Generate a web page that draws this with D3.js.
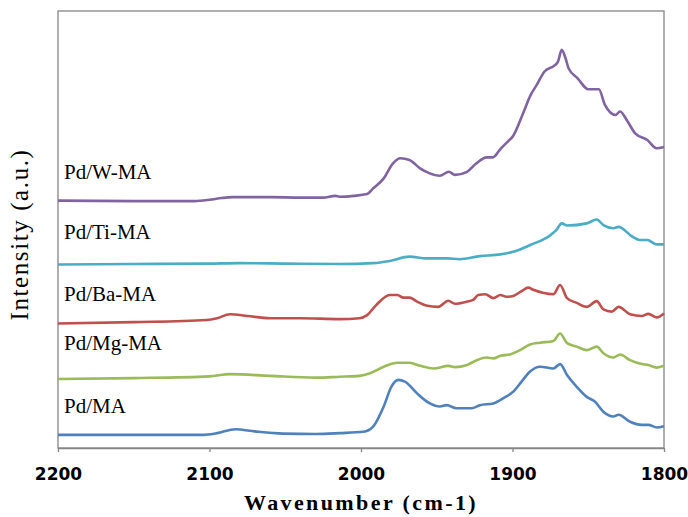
<!DOCTYPE html>
<html>
<head>
<meta charset="utf-8">
<script src="https://cdn.jsdelivr.net/npm/d3@7"></script>
<style>
  body { margin: 0; background: #fff; }
  svg { display: block; }
</style>
</head>
<body>
<svg id="chart" width="688" height="517"></svg>
<script>
// wavenumber (cm-1) / intensity (a.u.), one pair per sample
var wnW  = [2200,2150,2110,2100,2092,2085,2060,2040,2025,2017,2014,2005,1996,1992,1985,1979,1974,1968,1961,1955,1948,1942,1938,1930,1924,1917,1913,1908,1902,1900,1893,1888,1884,1879,1872,1870,1867.5,1865,1863,1857,1850,1843,1839,1832,1829,1824,1819,1811,1805,1800];
var intW = [5.66,5.65,5.65,5.68,5.72,5.74,5.74,5.73,5.73,5.77,5.75,5.77,5.81,5.94,6.17,6.51,6.63,6.59,6.40,6.29,6.23,6.32,6.25,6.32,6.51,6.65,6.65,6.84,7.05,7.12,7.66,8.08,8.31,8.61,8.76,8.84,9.11,8.92,8.69,8.46,8.21,8.21,7.85,7.62,7.70,7.47,7.20,7.05,6.86,6.89];

var wnTi  = [2200,2150,2100,2080,2050,2014,1992,1981,1968,1957,1943,1935,1921.5,1908,1899.5,1888,1875,1871,1867.5,1864,1851,1844.4,1840,1833.4,1830,1821,1816,1811,1805,1800];
var intTi = [4.20,4.21,4.22,4.23,4.22,4.21,4.23,4.28,4.38,4.34,4.34,4.32,4.39,4.43,4.49,4.65,4.87,4.99,5.14,5.09,5.14,5.23,5.10,5.03,5.06,4.84,4.76,4.76,4.66,4.66];

var wnBa  = [2200,2150,2102,2095,2086.5,2075,2060,2040,2014,2001,1996,1990,1981,1976,1972,1968,1963,1957,1949,1942.4,1938,1930,1926,1922.6,1918,1912.7,1908,1904,1899.5,1894,1889.6,1886.3,1873,1868.6,1864,1857.6,1851,1844.4,1840,1834.5,1830,1822.4,1814.7,1810.3,1804.8,1800];
var intBa = [2.85,2.88,2.93,2.97,3.06,3.02,2.97,2.97,2.95,2.97,3.04,3.27,3.50,3.50,3.44,3.44,3.35,3.26,3.23,3.37,3.30,3.35,3.39,3.50,3.52,3.43,3.50,3.46,3.48,3.59,3.67,3.62,3.52,3.73,3.43,3.32,3.23,3.36,3.17,3.12,3.23,3.06,3.02,3.07,2.99,3.08];

var wnMg  = [2200,2150,2100,2086.5,2060,2030,2014,2001,1994,1985,1976,1968,1961,1952,1942.4,1938,1930,1923.6,1917,1912.7,1908,1901.7,1895,1888.4,1881.8,1873,1868.6,1864,1857.6,1851,1844.4,1840,1833.4,1829,1822.4,1814.7,1810.3,1804.8,1800];
var intMg = [1.58,1.60,1.64,1.69,1.65,1.61,1.63,1.65,1.71,1.86,1.95,1.95,1.88,1.82,1.88,1.85,1.90,2.01,2.07,2.05,2.11,2.14,2.24,2.37,2.41,2.45,2.62,2.40,2.32,2.24,2.32,2.17,2.07,2.14,2.01,1.92,1.90,1.84,1.88];

var wnMA  = [2200,2150,2105,2095,2083,2070,2051.5,2030,2014,1998.5,1992,1985,1980,1975.4,1971,1963,1954.5,1948,1943.4,1937,1927,1921.5,1912.7,1906,1899.5,1894,1888.4,1881.8,1873,1868.6,1864,1857.6,1851,1845.5,1840,1833.4,1830,1822.4,1814.7,1810.3,1804.8,1800];
var intMA = [0.30,0.30,0.30,0.34,0.43,0.38,0.33,0.32,0.34,0.37,0.49,0.95,1.40,1.56,1.52,1.25,1.02,0.95,0.98,0.91,0.91,0.98,1.02,1.14,1.29,1.52,1.75,1.86,1.82,1.92,1.67,1.40,1.17,1.06,0.83,0.72,0.76,0.60,0.53,0.53,0.47,0.50];

var sampleNames = ['Pd/W-MA','Pd/Ti-MA','Pd/Ba-MA','Pd/Mg-MA','Pd/MA'];
var labelLevels = [6.16, 4.78, 3.36, 2.24, 0.80]; // a.u. where each name sits
var xTicks = [2200, 2100, 2000, 1900, 1800];

var colors = ['#8064a2', '#4bacc6', '#c0504d', '#9bbb59', '#4f81bd'];
var series = [[wnW, intW], [wnTi, intTi], [wnBa, intBa], [wnMg, intMg], [wnMA, intMA]];

var svg = d3.select('#chart');
// note: "top" is taken by window.top, so plot edges get their own names
var plotL = 58, plotR = 664, plotT = 11, plotB = 448;

var x = d3.scaleLinear().domain([2200, 1800]).range([plotL, plotR]);
var y = d3.scaleLinear().domain([0, 10]).range([plotB, plotT]);

// plot frame
svg.append('rect')
    .attr('x', plotL).attr('y', plotT)
    .attr('width', plotR-plotL).attr('height', plotB-plotT)
    .attr('fill', 'none')
    .attr('stroke', '#868686')
    .attr('stroke-width', 1.3);

var xAxis = svg.append('g')
    .attr('transform', 'translate(0,' + plotB + ')')
    .call(d3.axisBottom(x).tickValues(xTicks).tickSize(4).tickSizeOuter(0).tickFormat(d3.format('d')));
xAxis.select('.domain').attr('stroke', '#868686').attr('stroke-width', 1.3);
xAxis.selectAll('.tick line').attr('stroke', '#868686').attr('stroke-width', 1.3);
xAxis.selectAll('.tick text')
    .attr('y', 32)
    .attr('dy', 0)
    .attr('fill', '#000')
    .style('font-family', '"DejaVu Sans", Verdana, sans-serif')
    .style('font-weight', 'bold')
    .style('font-size', '17px');

var line = d3.line()
    .x(function(d){ return x(d[0]); })
    .y(function(d){ return y(d[1]); })
    .curve(d3.curveMonotoneX);

series.forEach(function(s, i){
    var pts = s[0].map(function(w, j){ return [w, s[1][j]]; });
    svg.append('path')
        .datum(pts)
        .attr('d', line)
        .attr('fill', 'none')
        .attr('stroke', colors[i])
        .attr('stroke-width', 2.6)
        .attr('stroke-linejoin', 'round');
});

svg.selectAll('text.name')
    .data(sampleNames)
    .enter()
    .append('text')
    .attr('class', 'name')
    .attr('x', plotL + 6)
    .attr('y', function(d, i){ return y(labelLevels[i]); })
    .style('font-family', '"Liberation Serif", "Times New Roman", serif')
    .style('font-size', '21px')
    .attr('fill', '#000')
    .text(function(d){ return d; });

svg.append('text')
    .attr('x', (plotL + plotR) / 2)
    .attr('y', 510)
    .attr('text-anchor', 'middle')
    .style('font-family', '"Liberation Serif", "Times New Roman", serif')
    .style('font-weight', 'bold')
    .style('font-size', '22px')
    .style('letter-spacing', '2.4px')
    .text('Wavenumber (cm-1)');

svg.append('text')
    .attr('transform', 'translate(28,' + ((plotT + plotB) / 2 + 5) + ') rotate(-90)')
    .attr('text-anchor', 'middle')
    .style('font-family', '"Liberation Serif", "Times New Roman", serif')
    .style('font-size', '25px')
    .style('letter-spacing', '1.6px')
    .text('Intensity (a.u.)');
</script>
</body>
</html>
